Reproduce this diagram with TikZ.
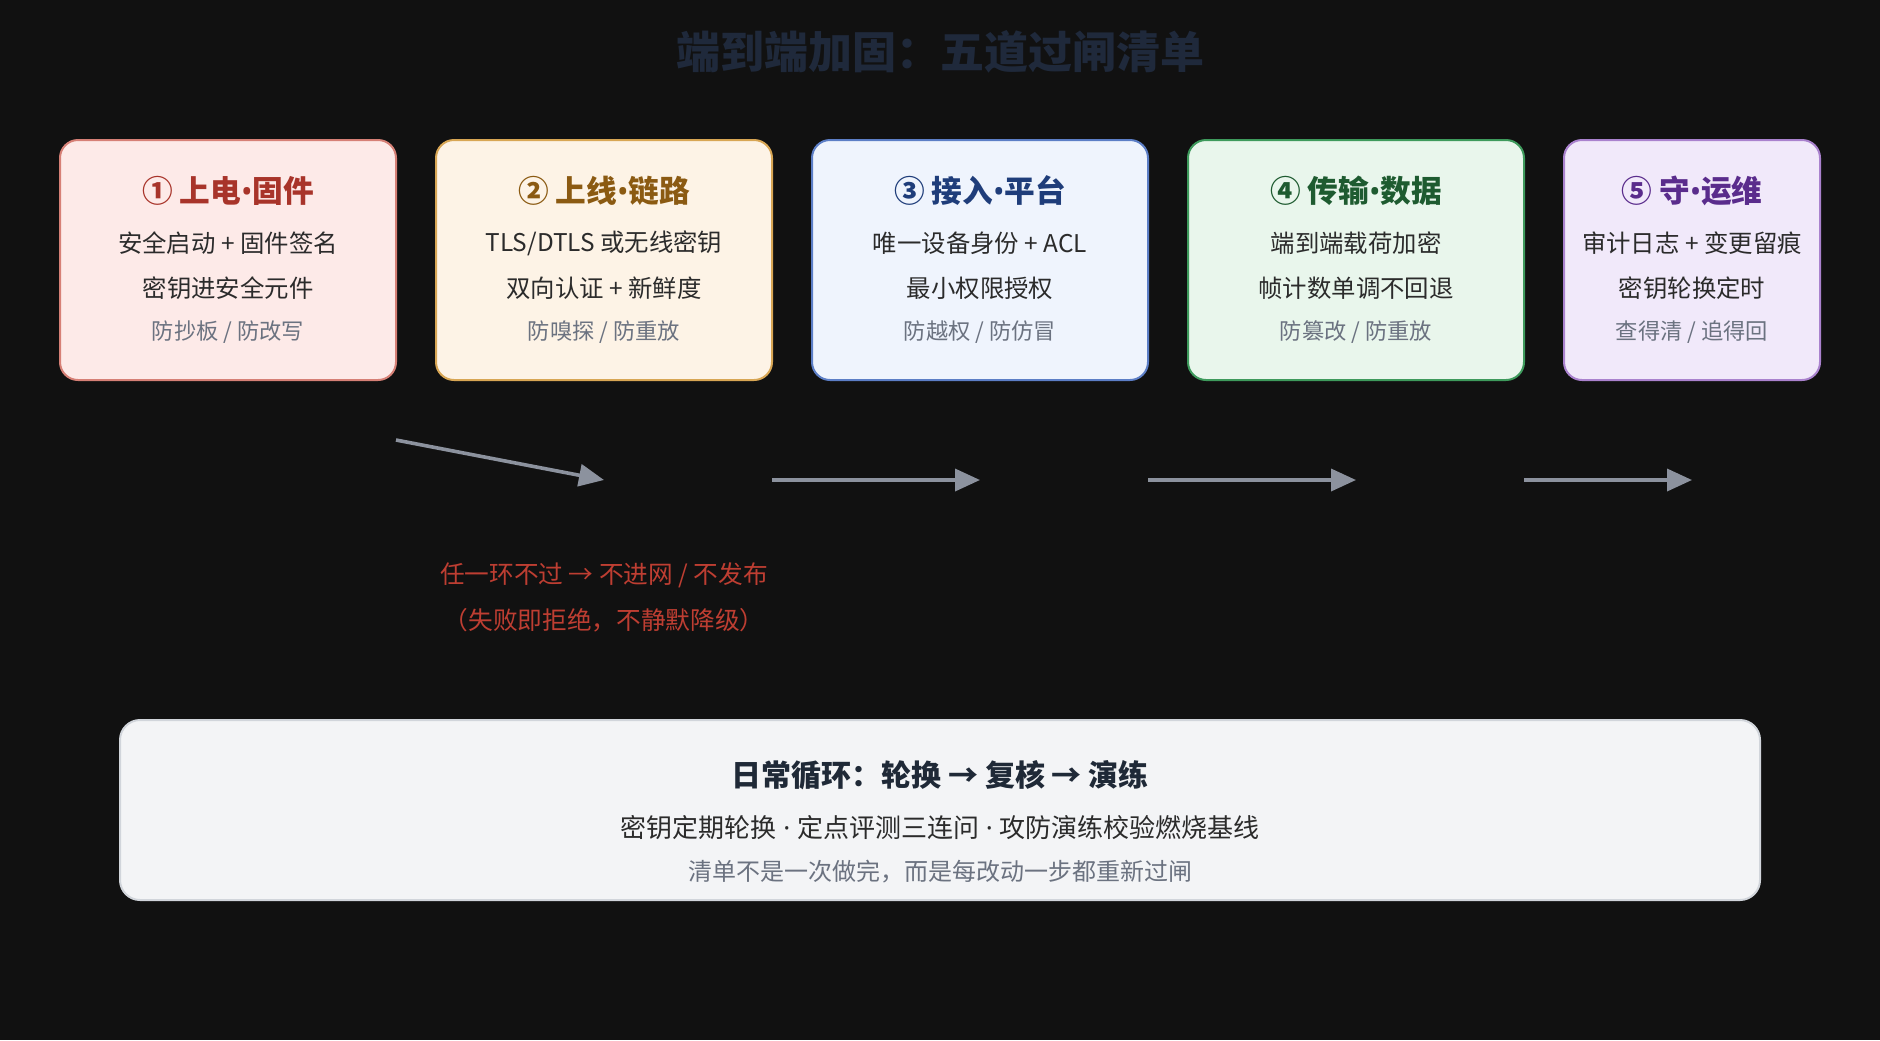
\documentclass[tikz,border=0pt]{standalone}
\usepackage{fontspec}
\setmainfont{Noto Sans CJK SC}
\newfontfamily\narrowfont{Noto Sans}
\newcommand{\bul}{{\narrowfont •}}
\newcommand{\mdot}{{\narrowfont\ ·\ }}
\usetikzlibrary{arrows.meta}

\tikzset{every picture/.style={line width=0.75pt}}
\tikzset{
  card/.style={rounded corners=13.5pt, line width=1.5pt, minimum width=252pt, minimum height=180pt, inner sep=0pt},
  cardtitle/.style={font=\fontsize{23}{27}\selectfont\bfseries, inner sep=0.75pt},
  cardline/.style={font=\fontsize{18.3}{22}\selectfont, text={rgb, 255:red, 43; green, 43; blue, 43}, inner sep=0.75pt},
  cardnote/.style={font=\fontsize{16.7}{20}\selectfont, text={rgb, 255:red, 107; green, 114; blue, 128}, inner sep=0.75pt},
  gate/.style={draw={rgb, 255:red, 140; green, 146; blue, 158}, line width=2.7pt, -{Triangle[length=18.75pt,width=16.5pt]}},
  failnote/.style={font=\fontsize{18.5}{22}\selectfont, text={rgb, 255:red, 190; green, 62; blue, 50}, inner sep=0.75pt},
}

\begin{document}
\begin{tikzpicture}[x=0.75pt,y=0.75pt,yscale=-1,xscale=1]
		%Shape: Background
		\fill [fill={rgb, 255:red, 17; green, 17; blue, 17}] (0,0) rectangle (1880,1040) ;
		\useasboundingbox (0,0) rectangle (1880,1040) ;

		% Text Node
		\draw (940,52) node [font=\fontsize{33}{40}\selectfont\bfseries, text={rgb, 255:red, 31; green, 41; blue, 59}][inner sep=0.75pt] (title) {端到端加固：五道过闸清单};

		%Shape: Rounded Rect [id:card1]
		\draw (228,260) node [card, draw={rgb, 255:red, 214; green, 128; blue, 118}, fill={rgb, 255:red, 253; green, 234; blue, 232}] (card1) {};
		%Shape: Rounded Rect [id:card2]
		\draw (604,260) node [card, draw={rgb, 255:red, 216; green, 166; blue, 84}, fill={rgb, 255:red, 253; green, 243; blue, 230}] (card2) {};
		%Shape: Rounded Rect [id:card3]
		\draw (980,260) node [card, draw={rgb, 255:red, 92; green, 126; blue, 198}, fill={rgb, 255:red, 239; green, 244; blue, 253}] (card3) {};
		%Shape: Rounded Rect [id:card4]
		\draw (1356,260) node [card, draw={rgb, 255:red, 62; green, 154; blue, 92}, fill={rgb, 255:red, 233; green, 246; blue, 236}] (card4) {};
		%Shape: Rounded Rect [id:card5]
		\draw (1692,260) node [card, minimum width=192pt, draw={rgb, 255:red, 170; green, 130; blue, 206}, fill={rgb, 255:red, 241; green, 233; blue, 250}] (card5) {};

		% Text Node
		\draw (228,191) node [cardtitle, text={rgb, 255:red, 168; green, 52; blue, 42}] (head1) {① 上电\bul 固件};
		\draw (228,243) node [cardline] (line1a) {安全启动 + 固件签名};
		\draw (228,288) node [cardline] (line1b) {密钥进安全元件};
		\draw (228,332) node [cardnote] (note1) {防抄板 / 防改写};
		% Text Node
		\draw (604,191) node [cardtitle, text={rgb, 255:red, 139; green, 90; blue, 18}] (head2) {② 上线\bul 链路};
		\draw (604,243) node [cardline] (line2a) {TLS/DTLS 或无线密钥};
		\draw (604,288) node [cardline] (line2b) {双向认证 + 新鲜度};
		\draw (604,332) node [cardnote] (note2) {防嗅探 / 防重放};
		% Text Node
		\draw (980,191) node [cardtitle, text={rgb, 255:red, 31; green, 61; blue, 122}] (head3) {③ 接入\bul 平台};
		\draw (980,243) node [cardline] (line3a) {唯一设备身份 + ACL};
		\draw (980,288) node [cardline] (line3b) {最小权限授权};
		\draw (980,332) node [cardnote] (note3) {防越权 / 防仿冒};
		% Text Node
		\draw (1356,191) node [cardtitle, text={rgb, 255:red, 30; green, 91; blue, 48}] (head4) {④ 传输\bul 数据};
		\draw (1356,243) node [cardline] (line4a) {端到端载荷加密};
		\draw (1356,288) node [cardline] (line4b) {帧计数单调不回退};
		\draw (1356,332) node [cardnote] (note4) {防篡改 / 防重放};
		% Text Node
		\draw (1692,191) node [cardtitle, text={rgb, 255:red, 90; green, 44; blue, 140}] (head5) {⑤ 守\bul 运维};
		\draw (1692,243) node [cardline] (line5a) {审计日志 + 变更留痕};
		\draw (1692,288) node [cardline] (line5b) {密钥轮换定时};
		\draw (1692,332) node [cardnote] (note5) {查得清 / 追得回};

		%Straight Lines [id:gate1]
		\coordinate (g1a) at (396,440) ;
		\coordinate (g1b) at (604,480) ;
		\draw [gate] (g1a) -- (g1b) ;
		%Straight Lines [id:gate2]
		\coordinate (g2a) at (772,480) ;
		\coordinate (g2b) at (980,480) ;
		\draw [gate] (g2a) -- (g2b) ;
		%Straight Lines [id:gate3]
		\coordinate (g3a) at (1148,480) ;
		\coordinate (g3b) at (1356,480) ;
		\draw [gate] (g3a) -- (g3b) ;
		%Straight Lines [id:gate4]
		\coordinate (g4a) at (1524,480) ;
		\coordinate (g4b) at (1692,480) ;
		\draw [gate] (g4a) -- (g4b) ;

		% Text Node
		\draw (604,575) node [failnote] (fail1) {任一环不过 → 不进网 / 不发布};
		% Text Node
		\draw (604,620) node [failnote] (fail2) {（失败即拒绝，不静默降级）};

		%Shape: Rounded Rect [id:loop]
		\draw (940,810) node [rounded corners=15pt, line width=1.5pt, minimum width=1230pt, minimum height=135pt, inner sep=0pt, draw={rgb, 255:red, 209; green, 213; blue, 219}, fill={rgb, 255:red, 243; green, 244; blue, 246}] (loop) {};
		% Text Node
		\draw (940,775) node [font=\fontsize{22.5}{27}\selectfont\bfseries, text={rgb, 255:red, 31; green, 41; blue, 55}][inner sep=0.75pt] (loophead) {日常循环：轮换 → 复核 → 演练};
		% Text Node
		\draw (940,828) node [cardline, font=\fontsize{19.5}{23}\selectfont] (loopline) {密钥定期轮换\mdot 定点评测三连问\mdot 攻防演练校验燃烧基线};
		% Text Node
		\draw (940,872) node [cardnote, font=\fontsize{18}{22}\selectfont] (loopnote) {清单不是一次做完，而是每改动一步都重新过闸};
\end{tikzpicture}
\end{document}
